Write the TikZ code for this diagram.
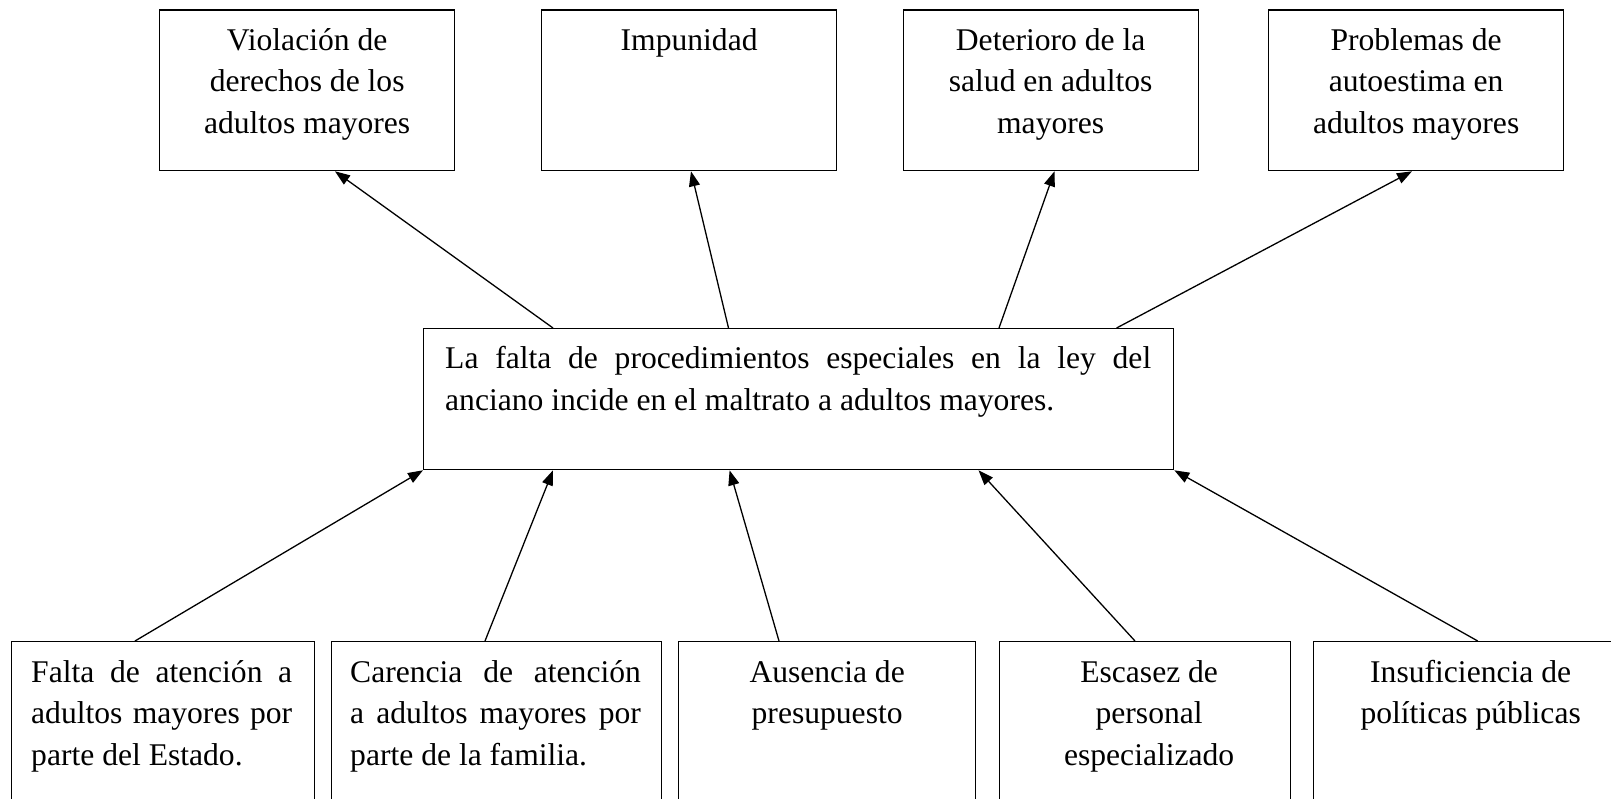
\documentclass[tikz,border=0pt]{standalone}
\usepackage{fontspec}
\setmainfont{Liberation Serif}
\usetikzlibrary{arrows.meta,calc}
\newcommand{\jline}[2]{\makebox[#1][s]{#2}}
\newcommand{\nsp}{\spaceskip=0pt\xspaceskip=0pt\relax}
\newcommand{\fsp}{\spaceskip=\fontdimen2\font\xspaceskip=\fontdimen2\font\relax}
\tikzset{
  box/.style={draw, line width=1.3pt, rectangle, inner sep=0pt, anchor=north west},
  topbox/.style={box, minimum width=295pt, minimum height=160.7pt},
  lowbox/.style={box, minimum height=200pt},
  txt/.style={inner sep=0pt, font=\fontsize{31.6}{41.7}\selectfont, anchor=base},
  arr/.style={line width=1.3pt, -{Triangle[length=15pt,width=11pt]}}
}
\begin{document}
\begin{tikzpicture}[x=1pt,y=-1pt]
\clip (0,0) rectangle (1611,799);
\fill[white] (0,0) rectangle (1611,799);

% top boxes
\node[topbox] (t1) at (159,9.3) {};
\node[topbox] (t2) at (541,9.3) {};
\node[topbox] (t3) at (902.5,9.3) {};
\node[topbox] (t4) at (1268,9.3) {};
\node[txt, text width=290pt, align=center] (t1t) at ($(t1.north)+(0,41)$) {\fsp Violación de\\derechos de los\\adultos mayores};
\node[txt, text width=290pt, align=center] (t2t) at ($(t2.north)+(0,41)$) {\fsp Impunidad};
\node[txt, text width=290pt, align=center] (t3t) at ($(t3.north)+(0,41)$) {\fsp Deterioro de la\\salud en adultos\\mayores};
\node[txt, text width=290pt, align=center] (t4t) at ($(t4.north)+(0,41)$) {\fsp Problemas de\\autoestima en\\adultos mayores};

% central box
\node[box, minimum width=750pt, minimum height=141pt] (c) at (423,328) {};
\node[txt, text width=706pt, align=left, anchor=base west] (ct) at ($(c.north west)+(22,41)$)
  {\nsp\jline{706pt}{La falta de procedimientos especiales en la ley del}\\\fsp anciano incide en el maltrato a adultos mayores.};

% bottom boxes
\node[lowbox, minimum width=303.5pt] (b1) at (10.5,641) {};
\node[lowbox, minimum width=329.5pt] (b2) at (331,641) {};
\node[lowbox, minimum width=297pt] (b3) at (678,641) {};
\node[lowbox, minimum width=291pt] (b4) at (999,641) {};
\node[lowbox, minimum width=314pt] (b5) at (1313,641) {};

\node[txt, text width=261pt, align=left, anchor=base west] (b1t) at ($(b1.north west)+(20.5,41)$)
  {\nsp\jline{261pt}{Falta de atención a}\\\jline{261pt}{adultos mayores por}\\\fsp parte del Estado.};
\node[txt, text width=290.7pt, align=left, anchor=base west] (b2t) at ($(b2.north west)+(19,41)$)
  {\nsp\jline{290.7pt}{Carencia de atención}\\\jline{290.7pt}{a adultos mayores por}\\\fsp parte de la familia.};
\node[txt, text width=290pt, align=center] (b3t) at ($(b3.north)+(0,41)$) {\fsp Ausencia de\\presupuesto};
\node[txt, text width=290pt, align=center] (b4t) at ($(b4.north)+(4,41)$) {\fsp Escasez de\\personal\\especializado};
\node[txt, text width=300pt, align=center] (b5t) at ($(b5.north)+(0,41)$) {\fsp Insuficiencia de\\políticas públicas};

% arrows from centre to effects
\draw[arr] ($(c.north west)+(130,0)$) -- ($(t1.south west)+(176,0)$);
\draw[arr] ($(c.north west)+(305.5,0)$) -- ($(t2.south west)+(150,0)$);
\draw[arr] ($(c.north west)+(576,0)$) -- ($(t3.south west)+(152,0)$);
\draw[arr] ($(c.north west)+(693.6,0)$) -- ($(t4.south west)+(144,0)$);

% arrows from causes to centre
\draw[arr] ($(b1.north west)+(124.5,0)$) -- (c.south west);
\draw[arr] ($(b2.north west)+(154,0)$) -- ($(c.south west)+(130,0)$);
\draw[arr] ($(b3.north west)+(101,0)$) -- ($(c.south west)+(306.6,0)$);
\draw[arr] ($(b4.north west)+(136,0)$) -- ($(c.south west)+(555.5,0)$);
\draw[arr] ($(b5.north west)+(164.7,0)$) -- (c.south east);
\end{tikzpicture}
\end{document}
